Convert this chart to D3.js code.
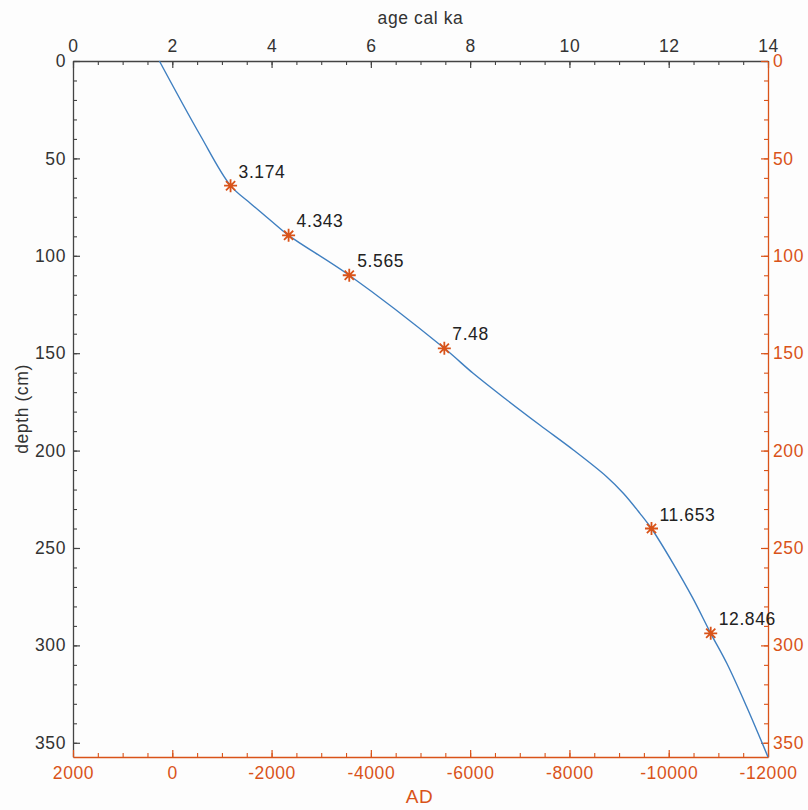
<!DOCTYPE html>
<html>
<head>
<meta charset="utf-8">
<script src="https://cdn.jsdelivr.net/npm/d3@7"></script>
<style>
  html, body { margin: 0; padding: 0; background: #fdfdfd; }
  svg { display: block; font-family: "Liberation Sans", Arial, sans-serif; }
</style>
</head>
<body>
<svg id="chart" width="808" height="810"></svg>
<script>
// Age–depth model: control points of the interpolated curve (age in ka, depth in cm)
const curveAge   = [1.74, 2.56, 3.174, 3.57, 3.97, 4.343, 5.565, 7.48, 8.06, 8.74, 9.41, 10.08, 10.75, 11.09, 11.42, 11.653, 12.09, 12.48, 12.846, 13.17, 13.57, 14.0];
const curveDepth = [0, 38, 64, 73, 81.6, 89.5, 110, 147.5, 160.3, 174, 187, 199.7, 213.4, 222, 232.2, 240, 258, 275.5, 293.8, 309.2, 331.5, 357.3];

// Dated levels (calibrated ages in ka) and their depths
const datedAge   = [3.174, 4.343, 5.565, 7.48, 11.653, 12.846];
const datedDepth = [64, 89.5, 110, 147.5, 240, 293.8];
const datedLabel = ["3.174", "4.343", "5.565", "7.48", "11.653", "12.846"];

// Tick values
const ageTicks   = [0, 2, 4, 6, 8, 10, 12, 14];
const depthTicks = [0, 50, 100, 150, 200, 250, 300, 350];
const adTicks    = [2000, 0, -2000, -4000, -6000, -8000, -10000, -12000];

const gray = "#444";
const textGray = "#333";
const orange = "#d95319";
const blue = "#3f7fc0";
const fs = 17.5, ls = "0.6px";

const svg = d3.select("#chart");
const mLeft = 73, mRight = 768, mTop = 61, mBottom = 757;

const x = d3.scaleLinear().domain([0, 14]).range([mLeft, mRight]);
const xAD = d3.scaleLinear().domain([2000, -12000]).range([mLeft, mRight]);
const y = d3.scaleLinear().domain([0, 357.3]).range([mTop, mBottom]);

const ageMinor = d3.range(0, 14.001, 0.5);
const depthMinor = d3.range(0, 357, 10);
const adMinor = d3.range(2000, -12001, -500);

function styleAxis(g, color, textColor) {
  g.selectAll("path.domain").attr("stroke", color).attr("stroke-width", 1.3);
  g.selectAll(".tick line").attr("stroke", color).attr("stroke-width", 1.2);
  g.selectAll(".tick text").attr("fill", textColor).attr("font-size", fs)
    .style("letter-spacing", ls);
}

// Minor ticks (no labels)
function minor(axisFn, scale, vals, transform, color) {
  const g = svg.append("g").attr("transform", transform)
    .call(axisFn(scale).tickValues(vals).tickSizeInner(-4).tickSizeOuter(0).tickFormat(""));
  g.select("path.domain").remove();
  g.selectAll(".tick line").attr("stroke", color).attr("stroke-width", 1.1);
}

minor(d3.axisTop, x, ageMinor, `translate(0,${mTop})`, gray);
minor(d3.axisLeft, y, depthMinor, `translate(${mLeft},0)`, gray);
minor(d3.axisRight, y, depthMinor, `translate(${mRight},0)`, orange);
minor(d3.axisBottom, xAD, adMinor, `translate(0,${mBottom})`, orange);

// Major axes
svg.append("g").attr("transform", `translate(0,${mTop})`)
  .call(d3.axisTop(x).tickValues(ageTicks).tickSizeInner(-7).tickSizeOuter(0).tickPadding(9))
  .call(g => styleAxis(g, gray, textGray));

svg.append("g").attr("transform", `translate(${mLeft},0)`)
  .call(d3.axisLeft(y).tickValues(depthTicks).tickSizeInner(-7).tickSizeOuter(0).tickPadding(7))
  .call(g => styleAxis(g, gray, textGray));

svg.append("g").attr("transform", `translate(${mRight},0)`)
  .call(d3.axisRight(y).tickValues(depthTicks).tickSizeInner(-7).tickSizeOuter(0).tickPadding(5))
  .call(g => styleAxis(g, orange, orange));

svg.append("g").attr("transform", `translate(0,${mBottom})`)
  .call(d3.axisBottom(xAD).tickValues(adTicks).tickSizeInner(-7).tickSizeOuter(0).tickPadding(10)
        .tickFormat(d => d < 0 ? "-" + Math.abs(d) : String(d)))
  .call(g => styleAxis(g, orange, orange));

// Axis titles
svg.append("text").attr("x", (mLeft + mRight) / 2).attr("y", 24)
  .attr("text-anchor", "middle").attr("font-size", fs).attr("fill", textGray)
  .style("letter-spacing", ls).text("age cal ka");
svg.append("text").attr("x", (mLeft + mRight) / 2 - 1).attr("y", 803)
  .attr("text-anchor", "middle").attr("font-size", 19).attr("fill", orange)
  .style("letter-spacing", ls).text("AD");
svg.append("text")
  .attr("transform", `translate(28,${(mTop + mBottom) / 2}) rotate(-90)`)
  .attr("text-anchor", "middle").attr("font-size", fs).attr("fill", textGray)
  .style("letter-spacing", ls).text("depth (cm)");

// Age–depth curve
const pts = curveAge.map((a, i) => [a, curveDepth[i]]);
const line = d3.line().x(d => x(d[0])).y(d => y(d[1])).curve(d3.curveCatmullRom.alpha(0.5));
svg.append("path").datum(pts)
  .attr("d", line).attr("fill", "none")
  .attr("stroke", blue).attr("stroke-width", 1.4);

// Asterisk markers at dated levels
const r = 6.5;
const asterisk = [0, 45, 90, 135].map(deg => {
  const t = deg * Math.PI / 180;
  return `M${-r * Math.cos(t)},${-r * Math.sin(t)}L${r * Math.cos(t)},${r * Math.sin(t)}`;
}).join("");
const marks = svg.append("g").selectAll("g").data(datedAge).join("g")
  .attr("transform", (d, i) => `translate(${x(d)},${y(datedDepth[i])})`);
marks.append("path").attr("d", asterisk)
  .attr("stroke", orange).attr("stroke-width", 1.8).attr("fill", "none");
marks.append("text").attr("x", 8).attr("y", -8)
  .attr("font-size", fs).attr("fill", "#222").style("letter-spacing", ls)
  .text((d, i) => datedLabel[i]);
</script>
</body>
</html>
